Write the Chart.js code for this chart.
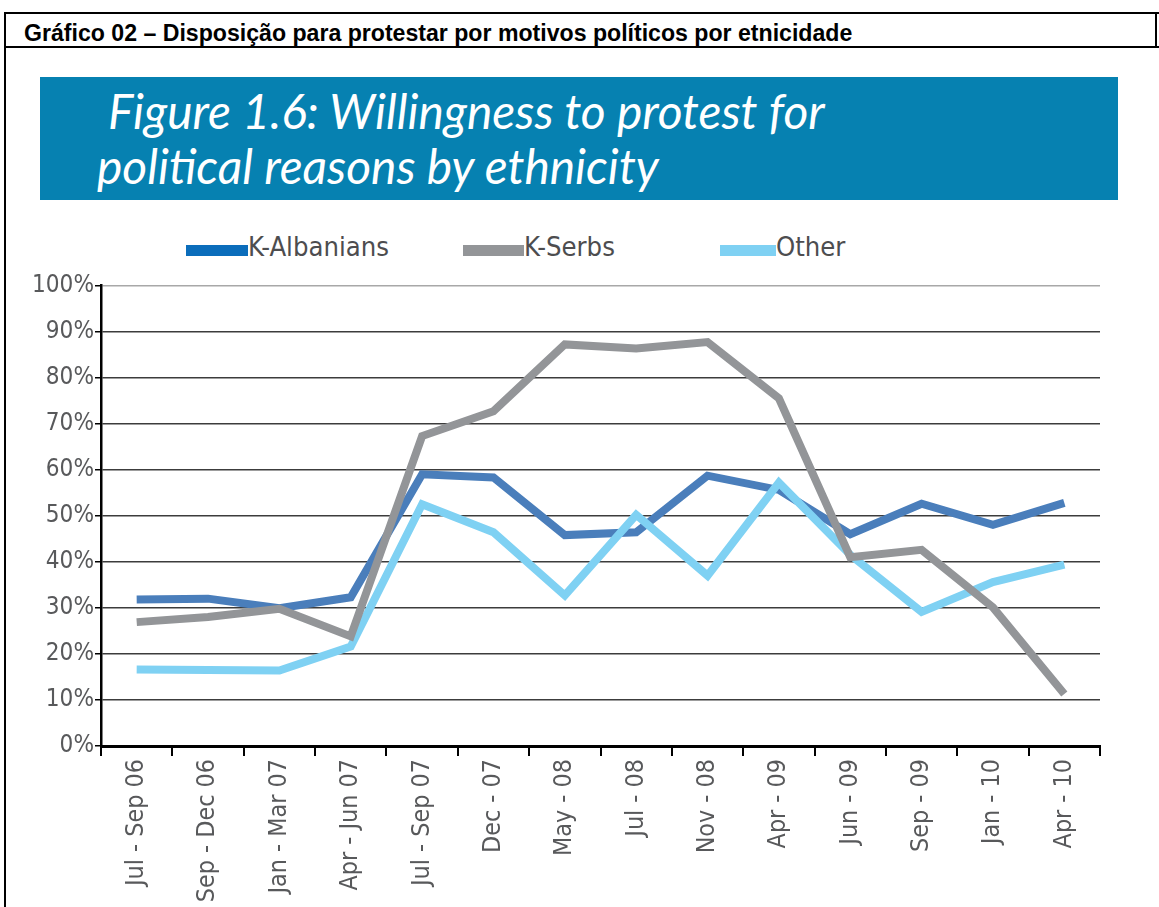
<!DOCTYPE html>
<html>
<head>
<meta charset="utf-8">
<script src="https://cdn.jsdelivr.net/npm/chart.js@4.4.1/dist/chart.umd.min.js"></script>
<style>
  html, body { margin: 0; padding: 0; background: #fff; }
  body { width: 1159px; height: 907px; position: relative; overflow: hidden; }
  .line { position: absolute; background: #000; }
  #header { position: absolute; left: 24px; top: 20px; font-family: "Liberation Sans", Arial, sans-serif; font-weight: bold; font-size: 19px; white-space: nowrap; color: #000; }
  #banner { position: absolute; left: 40px; top: 77px; width: 1078px; height: 123px; background: #0681b1; }
  .bt { position: absolute; font-family: Lato, "Open Sans", sans-serif; font-style: italic; color: #fff; white-space: nowrap; font-size: 46px; line-height: 1; }
  #legend { position: absolute; left: 0; top: 230px; width: 1159px; height: 40px; }
  .sw { position: absolute; height: 11px; top: 15px; }
  .lt { position: absolute; top: 3px; line-height: 1; color: #4d4d4f; white-space: nowrap; }
  #cv { position: absolute; left: 0; top: 270px; }
</style>
</head>
<body>
<div class="line" style="left:4px; top:12px; width:1155px; height:2px;"></div>
<div class="line" style="left:4px; top:12px; width:2px; height:895px;"></div>
<div class="line" style="left:1155px; top:12px; width:2px; height:36px;"></div>
<div class="line" style="left:4px; top:46px; width:1155px; height:2px;"></div>
<div id="header">Gráfico 02 – Disposição para protestar por motivos políticos por etnicidade</div>
<div id="banner">
  <div class="bt" id="bt1" style="left:68px; top:10px;">Figure 1.6: Willingness to protest for</div>
  <div class="bt" id="bt2" style="left:57px; top:65px;">political reasons by ethnicity</div>
</div>
<div id="legend"></div>
<canvas id="cv" width="1159" height="637"></canvas>
<script>
// ---- data ----
const categories = ["Jul - Sep 06", "Sep - Dec 06", "Jan - Mar 07", "Apr - Jun 07", "Jul - Sep 07", "Dec - 07", "May - 08", "Jul - 08", "Nov - 08", "Apr - 09", "Jun - 09", "Sep - 09", "Jan - 10", "Apr - 10"];
const seriesNames = ["K-Albanians", "K-Serbs", "Other"];
const kAlbanians = [31.8, 32.0, 29.9, 32.3, 59.0, 58.3, 45.8, 46.4, 58.7, 55.6, 46.0, 52.6, 48.0, 52.8];
const kSerbs     = [26.9, 28.0, 29.8, 23.8, 67.3, 72.7, 87.2, 86.3, 87.7, 75.5, 41.0, 42.6, 30.1, 11.3];
const other      = [16.6, 16.5, 16.4, 21.6, 52.5, 46.4, 32.7, 50.2, 37.0, 57.2, 41.5, 29.1, 35.6, 39.4];
const yTicks = [0, 10, 20, 30, 40, 50, 60, 70, 80, 90, 100];

// ---- styles ----
const lineColors = ["#4a7ebb", "#939598", "#7fd1f3"];
const legendColors = ["#0b6dbb", "#939598", "#7fd1f3"];
const condFont = '"Noto Sans Condensed", "Noto Sans SemiCondensed", "DejaVu Sans Condensed", sans-serif';

// size a font so a sample string has a target width
const mctx = document.createElement("canvas").getContext("2d");
function sizeFor(family, text, target) {
  mctx.font = "40px " + family;
  return 40 * target / mctx.measureText(text).width;
}
const xTickSize = sizeFor(condFont, "Jul - Sep 06", 127);
const yTickSize = sizeFor(condFont, "100%", 62);
const legendSize = sizeFor(condFont, "K-Albanians", 141);

function fit(el, target) {
  const w = el.getBoundingClientRect().width;
  const fs = parseFloat(getComputedStyle(el).fontSize);
  el.style.fontSize = (fs * target / w) + "px";
  return fs * target / w;
}
fit(document.getElementById("header"), 829);
const bfs = fit(document.getElementById("bt1"), 717);
document.getElementById("bt2").style.fontSize = bfs + "px";

// legend (HTML, from series names)
const legendPos = [[186, 248], [463, 524], [720, 776]];
const lg = document.getElementById("legend");
seriesNames.forEach((n, i) => {
  const s = document.createElement("div");
  s.className = "sw";
  s.style.left = legendPos[i][0] + "px";
  s.style.width = (legendPos[i][1] - legendPos[i][0]) + "px";
  s.style.background = legendColors[i];
  lg.appendChild(s);
  const t = document.createElement("div");
  t.className = "lt";
  t.style.left = legendPos[i][1] + "px";
  t.style.fontFamily = condFont;
  t.style.fontSize = legendSize + "px";
  t.textContent = n;
  lg.appendChild(t);
});

const seriesData = [kAlbanians, kSerbs, other];
const drawOrder = [3, 1, 2];
new Chart(document.getElementById("cv"), {
  type: "line",
  data: {
    labels: categories,
    datasets: seriesNames.map((n, i) => ({
      label: n,
      data: seriesData[i],
      borderColor: lineColors[i],
      backgroundColor: lineColors[i],
      borderWidth: 8,
      pointRadius: 0,
      tension: 0,
      fill: false,
      borderCapStyle: "butt",
      borderJoinStyle: "miter",
      order: drawOrder[i]
    }))
  },
  options: {
    responsive: false,
    animation: false,
    devicePixelRatio: 1,
    layout: { padding: { top: 14, right: 59, left: 0, bottom: 0 } },
    plugins: { legend: { display: false }, tooltip: { enabled: false } },
    scales: {
      x: {
        type: "category",
        offset: true,
        grid: { offset: true, drawOnChartArea: false, drawTicks: true, tickLength: 10, color: "#000", lineWidth: 2 },
        border: { color: "#000", width: 3 },
        ticks: { minRotation: 90, maxRotation: 90, autoSkip: false, color: "#58595b", font: { family: condFont, size: xTickSize }, padding: 3 },
        afterFit: s => { s.height = 161; }
      },
      y: {
        min: 0, max: 100,
        afterBuildTicks: s => { s.ticks = yTicks.map(v => ({ value: v })); },
        ticks: { callback: v => v + "%", color: "#58595b", font: { family: condFont, size: yTickSize }, padding: 1 },
        grid: { color: c => (c.tick && c.tick.value === 100 ? "#a8a8a8" : "#3c3c3c"), lineWidth: 1.5, drawTicks: true, tickLength: 6, tickColor: "#000" },
        border: { color: "#000", width: 2.5 },
        afterFit: s => { s.width = 101; }
      }
    }
  }
});
</script>
</body>
</html>
